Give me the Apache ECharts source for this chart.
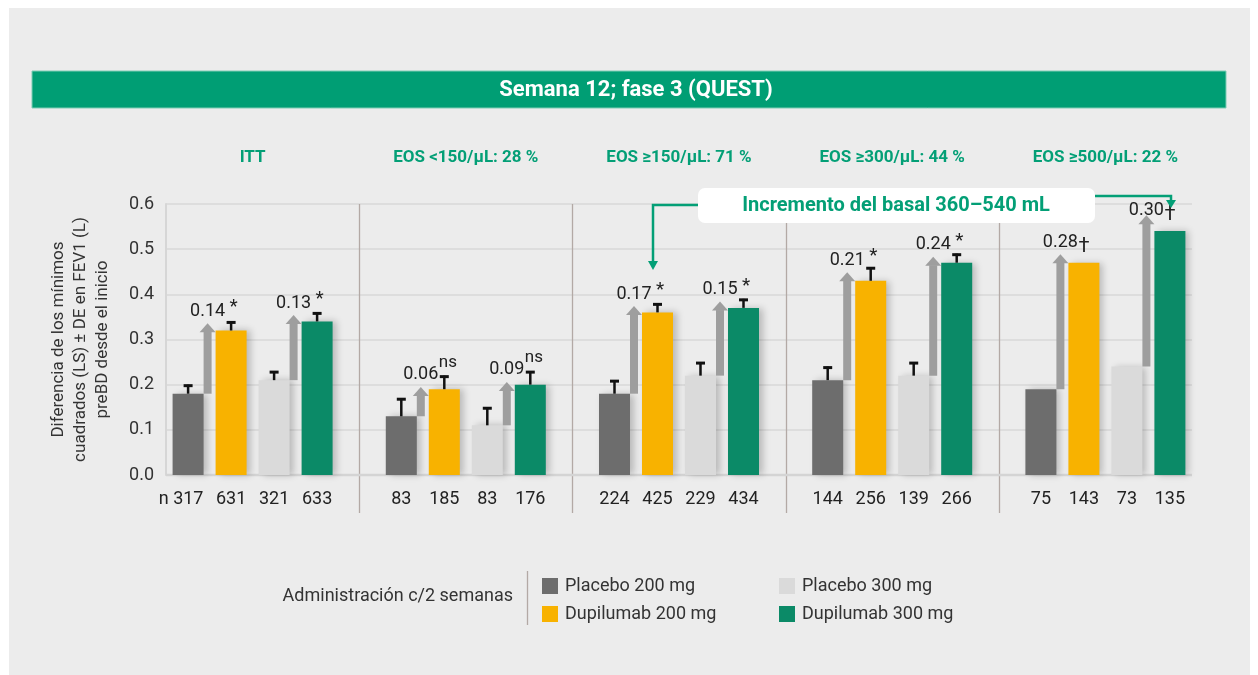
<!DOCTYPE html>
<html lang="es">
<head>
<meta charset="UTF-8">
<title>Semana 12; fase 3 (QUEST)</title>
<script src="https://cdn.jsdelivr.net/npm/echarts@6/dist/echarts.min.js"></script>
<style>
  body { margin: 0; background: #fff; }
  #chart { width: 1258px; height: 675px; }
</style>
</head>
<body>
<div id="chart"></div>
<script>
// ---- data ----
var groups = ['ITT', 'EOS <150/µL: 28 %', 'EOS ≥150/µL: 71 %', 'EOS ≥300/µL: 44 %', 'EOS ≥500/µL: 22 %'];
var seriesNames = ['Placebo 200 mg', 'Dupilumab 200 mg', 'Placebo 300 mg', 'Dupilumab 300 mg'];

var placebo200 = [0.18, 0.13, 0.18, 0.21, 0.19];
var dupi200    = [0.32, 0.19, 0.36, 0.43, 0.47];
var placebo300 = [0.21, 0.11, 0.22, 0.22, 0.24];
var dupi300    = [0.34, 0.20, 0.37, 0.47, 0.54];

// top of the error bar (value + DE); last group has none
var placebo200Err = [0.20, 0.17, 0.21, 0.24, null];
var dupi200Err    = [0.34, 0.22, 0.38, 0.46, null];
var placebo300Err = [0.23, 0.15, 0.25, 0.25, null];
var dupi300Err    = [0.36, 0.23, 0.39, 0.49, null];

var nPlacebo200 = [317, 83, 224, 144, 75];
var nDupi200    = [631, 185, 425, 256, 143];
var nPlacebo300 = [321, 83, 229, 139, 73];
var nDupi300    = [633, 176, 434, 266, 135];

// difference arrows
var diff200 = ['0.14', '0.06', '0.17', '0.21', '0.28'];
var diff300 = ['0.13', '0.09', '0.15', '0.24', '0.30'];
var mark200 = ['*', 'ns', '*', '*', '†'];
var mark300 = ['*', 'ns', '*', '*', '†'];
var arrowTop200 = [0.336, 0.195, 0.374, 0.449, 0.489];
var arrowTop300 = [0.354, 0.206, 0.384, 0.483, 0.575];

var yTicks = [0, 0.1, 0.2, 0.3, 0.4, 0.5, 0.6];

var colors = ['#6d6d6d', '#f8b200', '#dadada', '#0b8a67'];
var green = '#039f76';
var FONT = 'Roboto';

var barW = 31, barStep = 43;
var gridTop = 204;

var chart = echarts.init(document.getElementById('chart'));

var values = [placebo200, dupi200, placebo300, dupi300];
var errs = [placebo200Err, dupi200Err, placebo300Err, dupi300Err];
var ns = [nPlacebo200, nDupi200, nPlacebo300, nDupi300];

var barSeries = values.map(function (vals, k) {
    return {
        name: seriesNames[k],
        type: 'bar',
        xAxisIndex: 0,
        yAxisIndex: 0,
        barWidth: barW,
        barGap: ((barStep - barW) / barW * 100) + '%',
        z: 3,
        itemStyle: {
            color: colors[k],
            shadowColor: 'rgba(0,0,0,0.22)',
            shadowBlur: 7,
            shadowOffsetX: 4
        },
        label: {
            show: true,
            position: 'bottom',
            distance: 15,
            fontFamily: FONT,
            fontSize: 18,
            color: '#222',
            formatter: function (p) {
                var s = String(ns[k][p.dataIndex]);
                return (k === 0 && p.dataIndex === 0) ? 'n ' + s : s;
            }
        },
        data: vals.map(function (v, i) {
            if (k === 0 && i === 0) return { value: v, label: { offset: [-7, 0] } };
            return v;
        })
    };
});

// error bars (T shape) on each bar
var errData = [];
errs.forEach(function (arr, k) {
    arr.forEach(function (e, i) {
        if (e != null) errData.push([i, values[k][i], e, k]);
    });
});

var errSeries = {
    type: 'custom',
    xAxisIndex: 0,
    yAxisIndex: 0,
    z: 4,
    clip: false,
    renderItem: function (params, api) {
        var k = api.value(3);
        var off = (k - 1.5) * barStep;
        var base = api.coord([api.value(0), api.value(1)]);
        var top = api.coord([api.value(0), api.value(2)]);
        var x = base[0] + off;
        return {
            type: 'group',
            children: [
                { type: 'line', shape: { x1: x, y1: base[1], x2: x, y2: top[1] },
                  style: { stroke: '#111', lineWidth: 2.5 } },
                { type: 'line', shape: { x1: x - 4.5, y1: top[1] + 1, x2: x + 4.5, y2: top[1] + 1 },
                  style: { stroke: '#111', lineWidth: 3 } }
            ]
        };
    },
    data: errData
};

function arrowSeries(baseVals, topVals, diffs, marks, side) {
    return {
        type: 'custom',
        xAxisIndex: 0,
        yAxisIndex: 0,
        z: 5,
        clip: false,
        renderItem: function (params, api) {
            var i = params.dataIndex;
            var base = api.coord([api.value(0), api.value(1)]);
            var tip = api.coord([api.value(0), api.value(2)]);
            // arrow sits right after the placebo bar
            var left = base[0] + (side === 0 ? -1.5 : 0.5) * barStep + barW / 2;
            var x = left + 4;
            var headH = 9;
            // label sits above the tip, but not above the top of the plot
            var ty = Math.max(tip[1] - 3, gridTop + 15);
            var m = marks[i];
            var markY, markSize, markX = x + 18;
            if (m === '*') { markY = ty - 3; markSize = 19; markX = x + 22; }
            else if (m === 'ns') { markY = ty - 13; markSize = 17; }
            else { markY = ty + 6; markSize = 20; }
            return {
                type: 'group',
                children: [
                    { type: 'rect', shape: { x: left, y: tip[1] + headH - 0.5, width: 8, height: base[1] - tip[1] - headH + 0.5 },
                      style: { fill: '#9e9e9e' } },
                    { type: 'polygon', shape: { points: [[x - 8, tip[1] + headH], [x + 8, tip[1] + headH], [x, tip[1]]] },
                      style: { fill: '#9e9e9e' } },
                    { type: 'text', x: x, y: ty,
                      style: { text: diffs[i], fill: '#222', font: '18px ' + FONT, align: 'center', verticalAlign: 'bottom' } },
                    { type: 'text', x: markX, y: markY,
                      style: { text: m, fill: '#222', font: markSize + 'px ' + FONT, align: 'left', verticalAlign: 'bottom' } }
                ]
            };
        },
        data: baseVals.map(function (v, i) { return [i, v, topVals[i]]; })
    };
}

var legendBase = {
    orient: 'vertical',
    top: 572,
    itemWidth: 16,
    itemHeight: 16,
    itemGap: 10,
    icon: 'rect',
    textStyle: { fontFamily: FONT, fontSize: 18, color: '#333', padding: [0, 0, 0, 2] }
};

var option = {
    backgroundColor: 'transparent',
    textStyle: { fontFamily: FONT },
    animation: false,
    legend: [
        Object.assign({}, legendBase, { left: 537, data: ['Placebo 200 mg', 'Dupilumab 200 mg'] }),
        Object.assign({}, legendBase, { left: 774, data: ['Placebo 300 mg', 'Dupilumab 300 mg'] })
    ],
    grid: [
        { left: 146, right: 46, top: gridTop, bottom: 200 },   // bars
        { left: 166, right: 66, top: gridTop, bottom: 200 }    // visible value axis
    ],
    xAxis: [{
        type: 'category',
        gridIndex: 0,
        position: 'top',
        data: groups,
        axisLine: { show: false },
        axisTick: { show: false },
        splitLine: { show: false },
        axisLabel: { interval: 0, margin: 38, color: green, fontWeight: 'bold', fontSize: 17, fontFamily: FONT }
    }, {
        type: 'value',
        gridIndex: 1,
        show: false,
        min: 0,
        max: 1
    }],
    yAxis: [{
        type: 'value',
        gridIndex: 0,
        min: 0,
        max: 0.6,
        interval: 0.1,
        show: false
    }, {
        type: 'value',
        gridIndex: 1,
        min: yTicks[0],
        max: yTicks[yTicks.length - 1],
        interval: 0.1,
        name: 'Diferencia de los mínimos\ncuadrados (LS) ± DE en FEV1 (L)\npreBD desde el inicio',
        nameLocation: 'middle',
        nameGap: 52,
        nameTextStyle: { fontFamily: FONT, fontSize: 17, color: '#333', lineHeight: 22 },
        axisLine: { show: true, lineStyle: { color: '#d6d6d6', width: 2 } },
        axisTick: { show: false },
        axisLabel: {
            margin: 12, fontFamily: FONT, fontSize: 18, color: '#333',
            formatter: function (v) { return v.toFixed(1); }
        },
        splitLine: { show: true, lineStyle: { color: '#d9d9d9', width: 1.5 } }
    }],
    series: barSeries.concat([
        errSeries,
        arrowSeries(placebo200, arrowTop200, diff200, mark200, 0),
        arrowSeries(placebo300, arrowTop300, diff300, mark300, 1)
    ])
};

chart.setOption(option);

// separators between groups, from the category axis positions
var seps = [];
for (var i = 0; i < groups.length - 1; i++) {
    var a = chart.convertToPixel({ xAxisIndex: 0 }, i);
    var b = chart.convertToPixel({ xAxisIndex: 0 }, i + 1);
    var sx = Math.round((a + b) / 2) + 0.5;
    seps.push({ type: 'line', z: 1, shape: { x1: sx, y1: gridTop, x2: sx, y2: 513 },
        style: { stroke: '#b3a9a5', lineWidth: 1.3 } });
}
var y0 = chart.convertToPixel({ yAxisIndex: 1 }, 0);

chart.setOption({
    graphic: [
        { type: 'rect', z: -100, shape: { x: 9, y: 8, width: 1241, height: 667 }, style: { fill: '#ececec' } },
        { type: 'rect', z: 10, shape: { x: 32, y: 71, width: 1194, height: 37 },
          style: { fill: '#009e74', stroke: '#7fcdb5', lineWidth: 1 } },
        { type: 'text', z: 11, x: 636, y: 90,
          style: { text: 'Semana 12; fase 3 (QUEST)', fill: '#fff', font: 'bold 22px ' + FONT, align: 'center', verticalAlign: 'middle' } },
        // baseline
        { type: 'line', z: 2, shape: { x1: 166, y1: y0, x2: 1192, y2: y0 }, style: { stroke: '#d4d4d4', lineWidth: 2.5 } },
        // callout
        { type: 'polyline', z: 10, shape: { points: [[698, 205], [653, 205], [653, 262]] },
          style: { stroke: green, lineWidth: 2.5, fill: null } },
        { type: 'polygon', z: 10, shape: { points: [[648, 261], [658, 261], [653, 270]] }, style: { fill: green } },
        { type: 'polyline', z: 10, shape: { points: [[1095, 196], [1171, 196], [1171, 201]] },
          style: { stroke: green, lineWidth: 2.5, fill: null } },
        { type: 'polygon', z: 10, shape: { points: [[1166, 200], [1176, 200], [1171, 208]] }, style: { fill: green } },
        { type: 'rect', z: 11, shape: { x: 698, y: 188, width: 397, height: 35, r: 7 }, style: { fill: '#fff' } },
        { type: 'text', z: 12, x: 896, y: 206,
          style: { text: 'Incremento del basal 360–540 mL', fill: green, font: 'bold 20px ' + FONT, align: 'center', verticalAlign: 'middle' } },
        // legend heading and divider
        { type: 'text', z: 10, x: 513, y: 596,
          style: { text: 'Administración c/2 semanas', fill: '#333', font: '18px ' + FONT, align: 'right', verticalAlign: 'middle' } },
        { type: 'line', z: 10, shape: { x1: 527.5, y1: 571, x2: 527.5, y2: 625 }, style: { stroke: '#b3a9a5', lineWidth: 1.3 } }
    ].concat(seps)
});
</script>
</body>
</html>
